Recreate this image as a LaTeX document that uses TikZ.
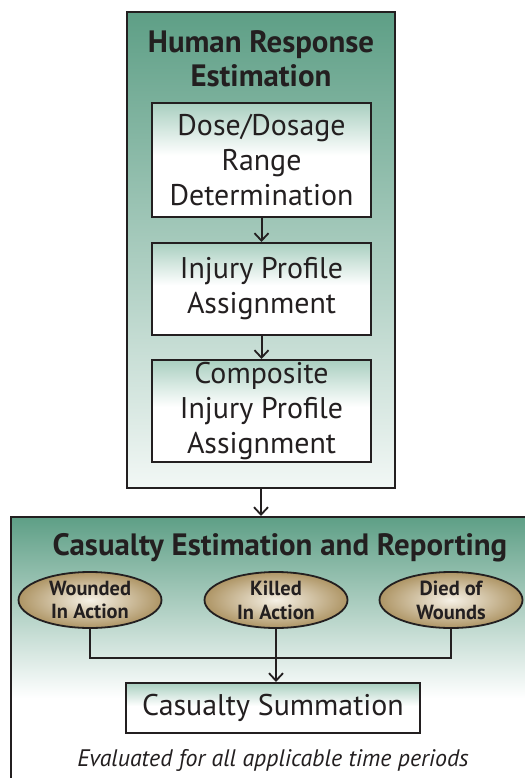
\documentclass[tikz,border=0pt]{standalone}
\usepackage{fontspec}
\setmainfont{PT Sans}
\usetikzlibrary{arrows.meta,shapes.geometric}
\definecolor{ink}{HTML}{231F20}
\definecolor{gTop}{HTML}{5E9F86}
\definecolor{gLight}{HTML}{A9CFC0}
\definecolor{goldOut}{HTML}{AE9565}
\definecolor{goldIn}{HTML}{F6F1E6}
\pgfdeclareverticalshading{lowshade}{100bp}{color(0bp)=(white); color(25bp)=(white); color(43bp)=(white); color(75bp)=(gTop); color(100bp)=(gTop)}
\pgfdeclareverticalshading{upshade}{100bp}{color(0bp)=(white!92!gTop); color(25bp)=(white!92!gTop); color(75bp)=(gTop); color(100bp)=(gTop)}
\pgfdeclareverticalshading{innershade}{100bp}{color(0bp)=(white); color(25bp)=(white); color(52bp)=(white); color(75bp)=(gLight); color(100bp)=(gLight)}
\tikzset{
  bigbox/.style={draw=ink, line width=2bp, inner sep=0pt},
  stepbox/.style={draw=ink, line width=2bp, shading=innershade, inner sep=0pt,
     text=ink, align=center, font=\fontsize{30}{35}\selectfont},
  titletext/.style={text=ink, align=center, font=\bfseries\fontsize{31}{34}\selectfont},
  oval/.style={ellipse, draw=ink, line width=1.8bp, inner color=goldIn, outer color=goldOut,
     minimum width=143bp, minimum height=56bp, inner sep=0pt, text=ink, align=center,
     font=\bfseries\fontsize{20.5}{24}\selectfont},
  conn/.style={draw=ink, line width=2bp},
  arr/.style={conn, -{Straight Barb[length=7.5bp,width=14bp,line width=1.8bp]}}
}
\begin{document}
\begin{tikzpicture}[x=1bp,y=-1bp]
\useasboundingbox (0,0) rectangle (525,778);
% upper panel
\node[bigbox, shading=upshade, minimum width=268bp, minimum height=476bp] (hre) at (261,250) {};
\node[titletext] (hret) at (261,59) {Human Response\\Estimation};
\node[stepbox, minimum width=219bp, minimum height=114bp] (dose) at (261.5,160) {Dose/Dosage\\Range\\Determination};
\node[stepbox, minimum width=219bp, minimum height=92bp] (inj) at (261.5,289) {Injury Profile\\Assignment};
\node[stepbox, minimum width=219bp, minimum height=102bp] (comp) at (261.5,411) {Composite\\Injury Profile\\Assignment};
\draw[arr] (dose.south) -- (dose.south |- inj.north);
\draw[arr] (inj.south) -- (inj.south |- comp.north);
% lower panel
\node[bigbox, shading=lowshade, minimum width=534bp, minimum height=283bp] (cer) at (278,658.5) {};
\draw[arr] (hre.south) -- (hre.south |- cer.north);
\node[titletext] (cert) at (280,548) {Casualty Estimation and Reporting};
\node[oval] (wia) at (90,600) {Wounded\\In Action};
\node[oval] (kia) at (276,600) {Killed\\In Action};
\node[oval] (dow) at (451,600) {Died of\\Wounds};
\node[stepbox, minimum width=294bp, minimum height=50bp] (sum) at (273,708) {Casualty Summation};
\coordinate (j) at (276,658);
\draw[conn] (wia.south) |- (j);
\draw[conn] (dow.south) |- (j);
\draw[arr] (kia.south) -- (kia.south |- sum.north);
\node[text=ink, font=\itshape\fontsize{24}{28}\selectfont] (note) at (273,760) {Evaluated for all applicable time periods};
\end{tikzpicture}
\end{document}
